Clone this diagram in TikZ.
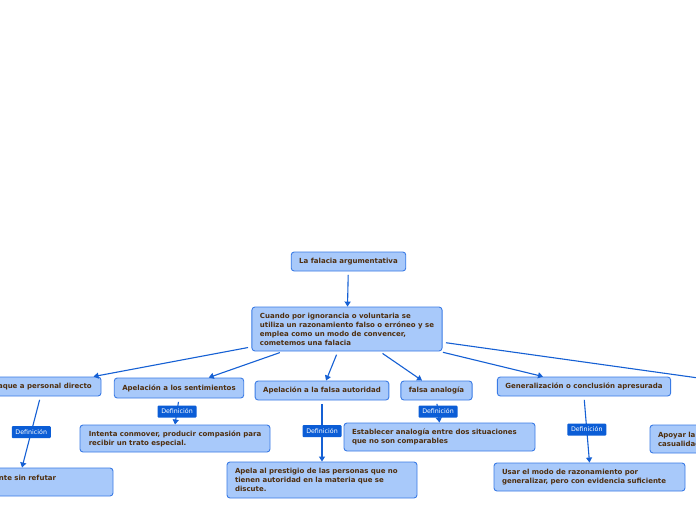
\documentclass[tikz,border=0pt]{standalone}
\usepackage{fontspec}
\setmainfont{DejaVu Sans}
\usetikzlibrary{arrows.meta}
\definecolor{boxfill}{HTML}{A8C9FA}
\definecolor{boxline}{HTML}{3A7BE5}
\definecolor{conn}{HTML}{1560D4}
\definecolor{txt}{HTML}{4E2E0E}
\definecolor{tagfill}{HTML}{0B5DD6}
\tikzset{
  topic/.style={draw=boxline, fill=boxfill, rounded corners=3pt, line width=0.9pt,
    text=txt, font=\fontsize{7}{9}\selectfont\bfseries, inner xsep=8pt, inner ysep=5pt, align=left},
  tag/.style={fill=tagfill, text=white, font=\fontsize{6.3}{7}\selectfont, inner xsep=3pt,
    inner ysep=2.5pt, rounded corners=1pt, minimum width=39pt, minimum height=12pt},
  link/.style={draw=conn, line width=1.1pt, -{Triangle[length=5pt,width=6pt]}, shorten <=3.5pt},
}
\begin{document}
\begin{tikzpicture}[x=1pt,y=-1pt]
\useasboundingbox (0,0) rectangle (696,520);
\fill[white] (0,0) rectangle (696,520);

\node[topic, minimum width=113pt, minimum height=19pt] (root) at (348.5,261.5) {La falacia argumentativa};
\node[topic, minimum width=190pt, minimum height=44pt] (main) at (347,329)
  {Cuando por ignorancia o voluntaria se\\utiliza un razonamiento falso o erróneo y se\\emplea como un modo de convencer,\\cometemos una falacia};

\node[topic, minimum width=121pt, minimum height=19pt] (c1) at (40.5,386.5) {Ataque a personal directo};
\node[topic, minimum width=128pt, minimum height=20pt] (c2) at (179,388) {Apelación a los sentimientos};
\node[topic, minimum width=132pt, minimum height=19pt] (c3) at (322,390.5) {Apelación a la falsa autoridad};
\node[topic, minimum width=71pt, minimum height=19pt] (c4) at (436.5,390.5) {falsa analogía};
\node[topic, minimum width=172pt, minimum height=19pt] (c5) at (584,386.5) {Generalización o conclusión apresurada};
\coordinate (c6) at (770,388);

\node[topic, minimum width=182pt, minimum height=28pt, text width=166pt] (def1) at (22,482) {\hspace*{60pt}nte sin refutar\\\mbox{}};
\node[topic, minimum width=190pt, minimum height=27pt] (def2) at (175,438.5) {Intenta conmover, producir compasión para\\recibir un trato especial.};
\node[topic, minimum width=190pt, minimum height=36pt, text width=174pt] (def3) at (322,480) {Apela al prestigio de las personas que no\\tienen autoridad en la materia que se\\discute.};
\node[topic, minimum width=191pt, minimum height=28pt, text width=175pt] (def4) at (439.5,437) {Establecer analogía entre dos situaciones\\que no son comparables};
\node[topic, minimum width=191pt, minimum height=28pt, text width=175pt] (def5) at (589.5,477) {Usar el modo de razonamiento por\\generalizar, pero con evidencia suficiente};
\node[topic, minimum width=190pt, minimum height=28pt, text width=174pt] (def6) at (745,439) {Apoyar la\\casualidad};

\draw[link] (root) -- (main);
\draw[link] (main) -- (c1);
\draw[link] (main) -- (c2);
\draw[link] (main) -- (c3);
\draw[link] (main) -- (c4);
\draw[link] (main) -- (c5);
\draw[link] (main) -- (c6);

\draw[link] (c1.south) -- (def1.north) node[tag, midway] {Definición};
\draw[link] (c2.south) -- (def2.north) node[tag, midway] {Definición};
\draw[link] (c3.south) -- (def3.north) node[tag, midway] {Definición};
\draw[link] (c4.south) -- (def4.north) node[tag, midway] {Definición};
\draw[link] (c5.south) -- (def5.north) node[tag, midway] {Definición};
\end{tikzpicture}
\end{document}
